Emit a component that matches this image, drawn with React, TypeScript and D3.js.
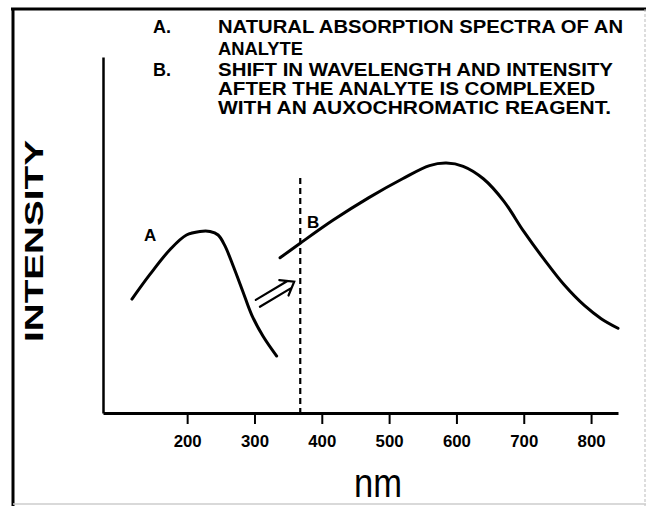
import { useEffect, useRef } from "react";
import * as d3 from "d3";

// spectrum A (natural analyte)
const curveANm = [118, 145, 175, 199, 219, 234, 246, 256, 269, 283, 296, 313, 333];
const curveAInt = [32, 39, 46, 50, 51, 51, 50, 47, 41, 34, 27.5, 21.5, 16];

// spectrum B (complexed with the auxochromatic reagent)
const curveBNm = [338, 368, 417, 470, 520, 560, 585, 610, 640, 670, 700, 730, 760, 790, 815, 840];
const curveBInt = [43.6, 47.7, 54.2, 60.5, 65.8, 69.5, 70.2, 69.3, 65.8, 59.6, 51, 43.2, 36, 30.2, 26.5, 23.8];

const xTicks = [200, 300, 400, 500, 600, 700, 800];
const xExtent = [75, 840];
const yExtent = [0, 100];

const markerNm = 368;
const markerTop = 66;
const arrowFrom = [305, 30.8];
const arrowTo = [359, 36.9];

const curveLabels = ["A", "B"];
const curveLabelNm = [145, 387];
const curveLabelInt = [50, 53.7];

const noteKeys = ["A.", "", "B.", "", ""];
const noteLines = [
  "NATURAL ABSORPTION SPECTRA OF AN",
  "ANALYTE",
  "SHIFT IN WAVELENGTH AND INTENSITY",
  "AFTER THE ANALYTE IS COMPLEXED",
  "WITH AN AUXOCHROMATIC REAGENT.",
];

const FONT = "'Liberation Sans', Arial, Helvetica, sans-serif";

export default function App() {
  const ref = useRef<SVGSVGElement>(null);

  useEffect(() => {
    const width = 646;
    const height = 506;
    const svg = d3.select(ref.current);
    svg.selectAll("*").remove();
    svg.attr("viewBox", `0 0 ${width} ${height}`);

    svg.append("rect").attr("width", width).attr("height", height).attr("fill", "#fff");

    // outer frame: heavy top/left, faint right/bottom
    svg.append("line").attr("x1", 13).attr("x2", 13).attr("y1", 8).attr("y2", height)
      .attr("stroke", "#000").attr("stroke-width", 3);
    svg.append("line").attr("x1", 11).attr("x2", width).attr("y1", 9).attr("y2", 9)
      .attr("stroke", "#000").attr("stroke-width", 3);
    svg.append("line").attr("x1", 645).attr("x2", 645).attr("y1", 9).attr("y2", height)
      .attr("stroke", "#bbb").attr("stroke-width", 1).attr("stroke-dasharray", "3 2");
    svg.append("line").attr("x1", 13).attr("x2", width).attr("y1", 504).attr("y2", 504)
      .attr("stroke", "#ccc").attr("stroke-width", 1.5);

    const x = d3.scaleLinear().domain(xExtent).range([103, 618]);
    const y = d3.scaleLinear().domain(yExtent).range([413, 57]);

    // axes
    const xAxis = svg.append("g").attr("transform", `translate(0,${y(0)})`)
      .call(d3.axisBottom(x).tickValues(xTicks).tickSize(11).tickSizeOuter(0));
    xAxis.select(".domain").attr("stroke", "#000").attr("stroke-width", 3);
    xAxis.selectAll(".tick line").attr("stroke", "#000").attr("stroke-width", 2);
    xAxis.selectAll(".tick text")
      .attr("y", 34).attr("dy", 0)
      .attr("fill", "#000")
      .attr("textLength", 28).attr("lengthAdjust", "spacingAndGlyphs")
      .style("font-family", FONT).style("font-size", "16px").style("font-weight", "bold");

    const yAxis = svg.append("g").attr("transform", `translate(${x(xExtent[0])},0)`)
      .call(d3.axisLeft(y).tickValues([]).tickSizeOuter(0));
    yAxis.select(".domain").attr("stroke", "#000").attr("stroke-width", 2.5);

    // axis titles
    svg.append("text")
      .attr("transform", "translate(43,241) rotate(-90)")
      .attr("text-anchor", "middle")
      .attr("textLength", 202).attr("lengthAdjust", "spacingAndGlyphs")
      .style("font-family", FONT).style("font-size", "25px").style("font-weight", "bold")
      .text("INTENSITY");

    svg.append("text")
      .attr("x", 378).attr("y", 497)
      .attr("text-anchor", "middle")
      .attr("textLength", 48).attr("lengthAdjust", "spacingAndGlyphs")
      .style("font-family", FONT).style("font-size", "40px")
      .text("nm");

    // annotation block
    const noteBase = [33, 55, 76, 95, 114];
    const noteWidth = [405, 85, 395, 377, 393];
    noteLines.forEach((line, i) => {
      if (noteKeys[i]) {
        svg.append("text").attr("x", 153).attr("y", noteBase[i])
          .style("font-family", FONT).style("font-size", "18px").style("font-weight", "bold")
          .text(noteKeys[i]);
      }
      svg.append("text").attr("x", 218).attr("y", noteBase[i])
        .attr("textLength", noteWidth[i]).attr("lengthAdjust", "spacingAndGlyphs")
        .style("font-family", FONT).style("font-size", "18px").style("font-weight", "bold")
        .text(line);
    });

    // spectra
    const line = d3.line<number>()
      .x((d) => x(d))
      .curve(d3.curveCatmullRom.alpha(0.5));

    svg.append("path")
      .attr("d", line.y((_, i) => y(curveAInt[i]))(curveANm))
      .attr("fill", "none").attr("stroke", "#000").attr("stroke-width", 3)
      .attr("stroke-linecap", "round").attr("stroke-linejoin", "round");

    svg.append("path")
      .attr("d", line.y((_, i) => y(curveBInt[i]))(curveBNm))
      .attr("fill", "none").attr("stroke", "#000").attr("stroke-width", 3)
      .attr("stroke-linecap", "round").attr("stroke-linejoin", "round");

    // dashed shift marker
    svg.append("line")
      .attr("x1", x(markerNm)).attr("x2", x(markerNm))
      .attr("y1", y(markerTop)).attr("y2", y(0))
      .attr("stroke", "#000").attr("stroke-width", 2.2).attr("stroke-dasharray", "6 4");

    // double arrow
    const tx = x(arrowTo[0]), ty = y(arrowTo[1]);
    const fx = x(arrowFrom[0]), fy = y(arrowFrom[1]);
    const len = Math.hypot(tx - fx, ty - fy);
    const ux = (tx - fx) / len, uy = (ty - fy) / len;
    const nx = -uy, ny = ux;
    const arrow = d3.path();
    arrow.moveTo(fx + nx * 4, fy + ny * 4);
    arrow.lineTo(tx - ux * 6 + nx * 4, ty - uy * 6 + ny * 4);
    arrow.moveTo(fx - nx * 4, fy - ny * 4);
    arrow.lineTo(tx - ux * 6 - nx * 4, ty - uy * 6 - ny * 4);
    arrow.moveTo(tx - ux * 12 + nx * 9, ty - uy * 12 + ny * 9);
    arrow.lineTo(tx, ty);
    arrow.lineTo(tx - ux * 12 - nx * 9, ty - uy * 12 - ny * 9);
    svg.append("path").attr("d", arrow.toString())
      .attr("fill", "none").attr("stroke", "#000").attr("stroke-width", 2.2)
      .attr("stroke-linecap", "round");

    // curve letters
    curveLabels.forEach((lab, i) => {
      svg.append("text")
        .attr("x", x(curveLabelNm[i])).attr("y", y(curveLabelInt[i]) + 6)
        .attr("text-anchor", "middle")
        .style("font-family", FONT).style("font-size", "17px").style("font-weight", "bold")
        .text(lab);
    });
  }, []);

  return (
    <svg
      ref={ref}
      width={646}
      height={506}
      style={{ position: "absolute", left: 0, top: 0, display: "block" }}
      role="img"
      aria-label="Absorption spectra shift chart"
    />
  );
}
